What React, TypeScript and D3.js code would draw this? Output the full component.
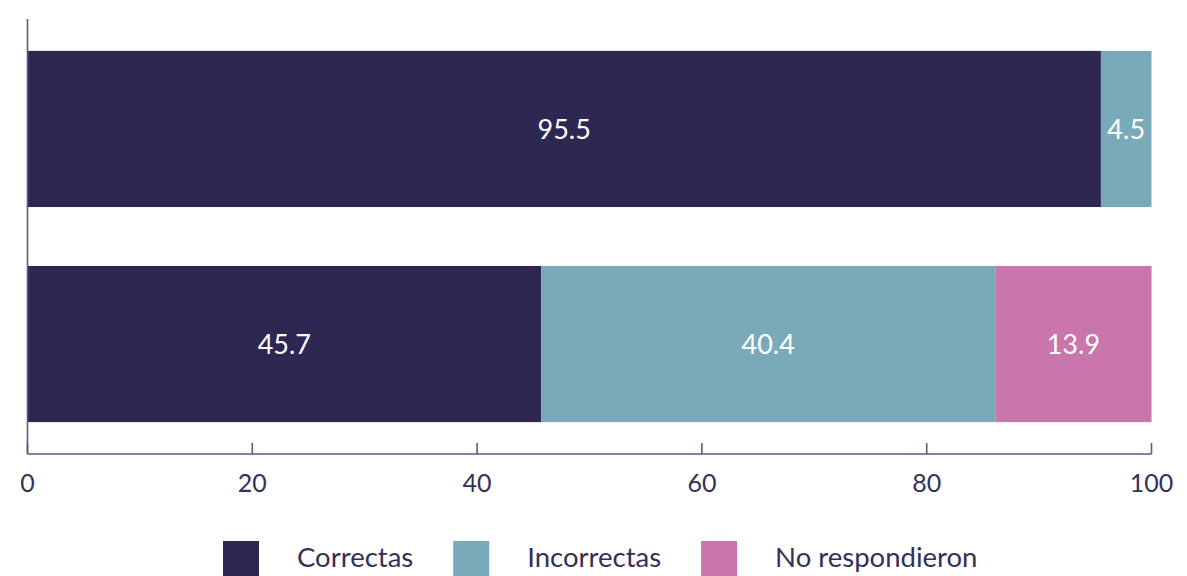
import React, { useEffect, useRef } from "react";
import * as d3 from "d3";

const categories = ["Pregunta 1", "Pregunta 2"];
const seriesNames = ["Correctas", "Incorrectas", "No respondieron"];
const correctas = [95.5, 45.7];
const incorrectas = [4.5, 40.4];
const noRespondieron = [0, 13.9];
const xTicks = [0, 20, 40, 60, 80, 100];
const colors = ["#2d2752", "#7aaab9", "#c876ab"];

const W = 1187;
const H = 576;

export default function App() {
  const ref = useRef<SVGSVGElement>(null);

  useEffect(() => {
    const svg = d3.select(ref.current);
    svg.selectAll("*").remove();

    const axisColor = "#5d5883";
    const textColor = "#35305a";

    const x = d3.scaleLinear().domain([0, 100]).range([27.5, 1151.5]);
    const y = d3
      .scaleBand<string>()
      .domain(categories)
      .range([21, 452])
      .paddingInner(0.274)
      .paddingOuter(0.139);

    const rows = categories.map((c, i) => ({
      cat: c,
      Correctas: correctas[i],
      Incorrectas: incorrectas[i],
      "No respondieron": noRespondieron[i],
    }));
    const stack = d3.stack<any>().keys(seriesNames)(rows);

    const g = svg.append("g");
    stack.forEach((layer, si) => {
      layer.forEach((d, i) => {
        const v = d[1] - d[0];
        if (v <= 0) return;
        g.append("rect")
          .attr("x", x(d[0]))
          .attr("y", y(categories[i])!)
          .attr("width", x(d[1]) - x(d[0]))
          .attr("height", y.bandwidth())
          .attr("fill", colors[si]);
        g.append("text")
          .attr("x", (x(d[0]) + x(d[1])) / 2)
          .attr("y", y(categories[i])! + y.bandwidth() / 2)
          .attr("dy", "0.36em")
          .attr("text-anchor", "middle")
          .attr("fill", "#ffffff")
          .attr("font-size", 27)
          .text(d3.format(".1f")(v));
      });
    });

    // axes
    const y0 = 454;
    svg
      .append("line")
      .attr("x1", x(0))
      .attr("x2", x(0))
      .attr("y1", 19)
      .attr("y2", y0)
      .attr("stroke", axisColor)
      .attr("stroke-width", 1.6);
    svg
      .append("line")
      .attr("x1", x(0))
      .attr("x2", x(100))
      .attr("y1", y0)
      .attr("y2", y0)
      .attr("stroke", axisColor)
      .attr("stroke-width", 1.6);
    xTicks.forEach((t) => {
      svg
        .append("line")
        .attr("x1", x(t))
        .attr("x2", x(t))
        .attr("y1", y0)
        .attr("y2", y0 - 11)
        .attr("stroke", axisColor)
        .attr("stroke-width", 1.6);
      svg
        .append("text")
        .attr("x", x(t))
        .attr("y", 492)
        .attr("text-anchor", "middle")
        .attr("fill", textColor)
        .attr("font-size", 25)
        .text(String(t));
    });

    // legend
    let lx = 223;
    seriesNames.forEach((name, i) => {
      svg
        .append("rect")
        .attr("x", lx)
        .attr("y", 541)
        .attr("width", 36)
        .attr("height", 40)
        .attr("fill", colors[i]);
      const t = svg
        .append("text")
        .attr("x", lx + 36 + 38)
        .attr("y", 567)
        .attr("fill", textColor)
        .attr("font-size", 27.5)
        .text(name);
      const w = (t.node() as SVGTextElement).getComputedTextLength();
      lx = lx + 36 + 38 + w + 40;
    });
  }, []);

  return (
    <svg
      ref={ref}
      width={W}
      height={H}
      style={{ position: "absolute", left: 0, top: 0, fontFamily: "Lato, sans-serif", background: "#fff" }}
    />
  );
}
